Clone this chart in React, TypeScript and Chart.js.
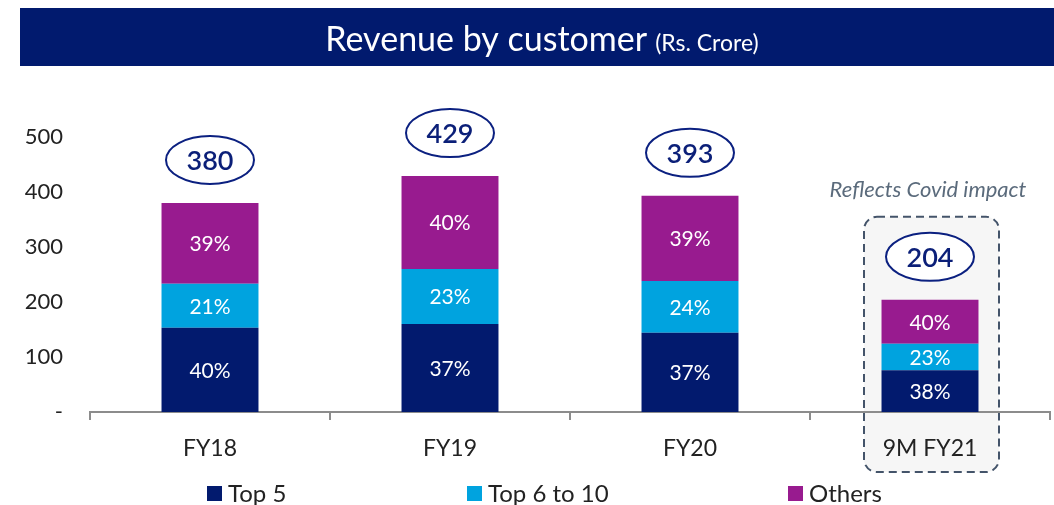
import React, { useEffect, useRef } from "react";
import { Chart, registerables } from "chart.js";

Chart.register(...registerables);

const categories = ["FY18", "FY19", "FY20", "9M FY21"];
const top5 = [153, 160, 144, 76];
const top6to10 = [80, 100, 94, 48];
const others = [147, 169, 155, 80];
const totals = [380, 429, 393, 204];
const top5Pct = ["40%", "37%", "37%", "38%"];
const top6to10Pct = ["21%", "23%", "24%", "23%"];
const othersPct = ["39%", "40%", "39%", "40%"];
const seriesNames = ["Top 5", "Top 6 to 10", "Others"];
const seriesColors = ["#021a6e", "#00a3df", "#981b8f"];
const titleMain = "Revenue by customer";
const titleSub = "(Rs. Crore)";
const noteText = "Reflects Covid impact";
const highlightIndex = 3;

const FONT = "Lato, 'Open Sans', sans-serif";

const decorPlugin = {
  id: "decor",
  beforeDraw(chart: any) {
    const ctx = chart.ctx as CanvasRenderingContext2D;
    ctx.save();
    ctx.fillStyle = "#ffffff";
    ctx.fillRect(0, 0, chart.width, chart.height);
    // banner
    ctx.fillStyle = "#011a6e";
    ctx.fillRect(20, 8, 1034, 58);
    ctx.font = `34px ${FONT}`;
    const w1 = ctx.measureText(titleMain).width;
    ctx.font = `23px ${FONT}`;
    const w2 = ctx.measureText(titleSub).width;
    const gap = 8;
    const startX = 542 - (w1 + gap + w2) / 2;
    ctx.fillStyle = "#ffffff";
    ctx.textBaseline = "alphabetic";
    ctx.textAlign = "left";
    ctx.font = `34px ${FONT}`;
    ctx.fillText(titleMain, startX, 51);
    ctx.font = `23px ${FONT}`;
    ctx.fillText(titleSub, startX + w1 + gap, 51);

    // highlight box
    const xs = chart.scales.x;
    const ys = chart.scales.y;
    const cx = xs.getPixelForValue(highlightIndex);
    const topY = ys.getPixelForValue(totals[highlightIndex]) - 83;
    const bx = cx - 66;
    const bw = 135;
    const bh = 472 - topY;
    ctx.beginPath();
    (ctx as any).roundRect(bx, topY, bw, bh, 13);
    ctx.fillStyle = "#f6f6f6";
    ctx.fill();
    ctx.setLineDash([8, 5]);
    ctx.lineWidth = 2;
    ctx.strokeStyle = "#44546a";
    ctx.stroke();
    ctx.setLineDash([]);
    ctx.restore();
  },
  afterDatasetsDraw(chart: any) {
    const ctx = chart.ctx as CanvasRenderingContext2D;
    const pctSets = [top5Pct, top6to10Pct, othersPct];
    ctx.save();
    ctx.textAlign = "center";
    ctx.textBaseline = "middle";
    ctx.font = `21px ${FONT}`;
    ctx.fillStyle = "#ffffff";
    pctSets.forEach((arr, di) => {
      const meta = chart.getDatasetMeta(di);
      meta.data.forEach((el: any, j: number) => {
        ctx.fillText(arr[j], el.x, (el.y + el.base) / 2 + 1);
      });
    });
    // total ellipses
    const topMeta = chart.getDatasetMeta(2);
    topMeta.data.forEach((el: any, j: number) => {
      const cy = el.y - 43;
      ctx.beginPath();
      ctx.ellipse(el.x, cy, 44, 24, 0, 0, Math.PI * 2);
      ctx.fillStyle = "#ffffff";
      ctx.fill();
      ctx.lineWidth = 2;
      ctx.strokeStyle = "#0b2080";
      ctx.stroke();
      ctx.fillStyle = "#0b1f78";
      ctx.font = `600 27px ${FONT}`;
      ctx.fillText(String(totals[j]), el.x, cy + 1);
    });
    // note
    const xs = chart.scales.x;
    const ys = chart.scales.y;
    const cx = xs.getPixelForValue(highlightIndex);
    ctx.font = `italic 22px ${FONT}`;
    ctx.fillStyle = "#5b6b7c";
    ctx.fillText(noteText, cx - 2, ys.getPixelForValue(totals[highlightIndex]) - 110);
    // legend
    const legendX = [207, 467, 788];
    ctx.textAlign = "left";
    ctx.font = `24px ${FONT}`;
    seriesNames.forEach((name, i) => {
      ctx.fillStyle = seriesColors[i];
      ctx.fillRect(legendX[i], 486, 15, 15);
      ctx.fillStyle = "#222222";
      ctx.fillText(name, legendX[i] + 21, 494);
    });
    ctx.restore();
  },
};

export default function App() {
  const ref = useRef<HTMLCanvasElement | null>(null);
  useEffect(() => {
    if (!ref.current) return;
    const chart = new Chart(ref.current, {
      type: "bar",
      data: {
        labels: categories,
        datasets: [
          { label: seriesNames[0], data: top5, backgroundColor: seriesColors[0] },
          { label: seriesNames[1], data: top6to10, backgroundColor: seriesColors[1] },
          { label: seriesNames[2], data: others, backgroundColor: seriesColors[2] },
        ],
      },
      options: {
        responsive: false,
        animation: false,
        layout: { padding: { left: 0, right: 4, top: 137, bottom: 0 } },
        datasets: {
          bar: { categoryPercentage: 1, barPercentage: 0.404, borderWidth: 0 },
        } as any,
        plugins: {
          legend: { display: false },
          tooltip: { enabled: false },
          title: { display: false },
        },
        scales: {
          x: {
            stacked: true,
            border: { display: true, color: "#8c8c8c", width: 2 },
            grid: {
              display: true,
              drawOnChartArea: false,
              drawTicks: true,
              tickLength: 8,
              color: "#8c8c8c",
              lineWidth: 2,
              offset: true,
            },
            ticks: { color: "#222222", font: { family: FONT, size: 23 }, padding: 15 },
            afterFit(scale: any) {
              scale.height = 93;
            },
          },
          y: {
            stacked: true,
            min: 0,
            max: 500,
            border: { display: false },
            grid: { display: false, drawTicks: false },
            ticks: {
              stepSize: 100,
              color: "#222222",
              padding: 27,
              font: { family: FONT, size: 22 },
              callback: (v: any) => (Number(v) === 0 ? "-" : String(v)),
            },
            afterFit(scale: any) {
              scale.width = 90;
            },
          },
        },
      },
      plugins: [decorPlugin],
    });
    return () => chart.destroy();
  }, []);
  return (
    <div style={{ position: "fixed", left: 0, top: 0, width: 1054, height: 505, background: "#fff" }}>
      <canvas ref={ref} width={1054} height={505} style={{ display: "block" }} />
    </div>
  );
}
